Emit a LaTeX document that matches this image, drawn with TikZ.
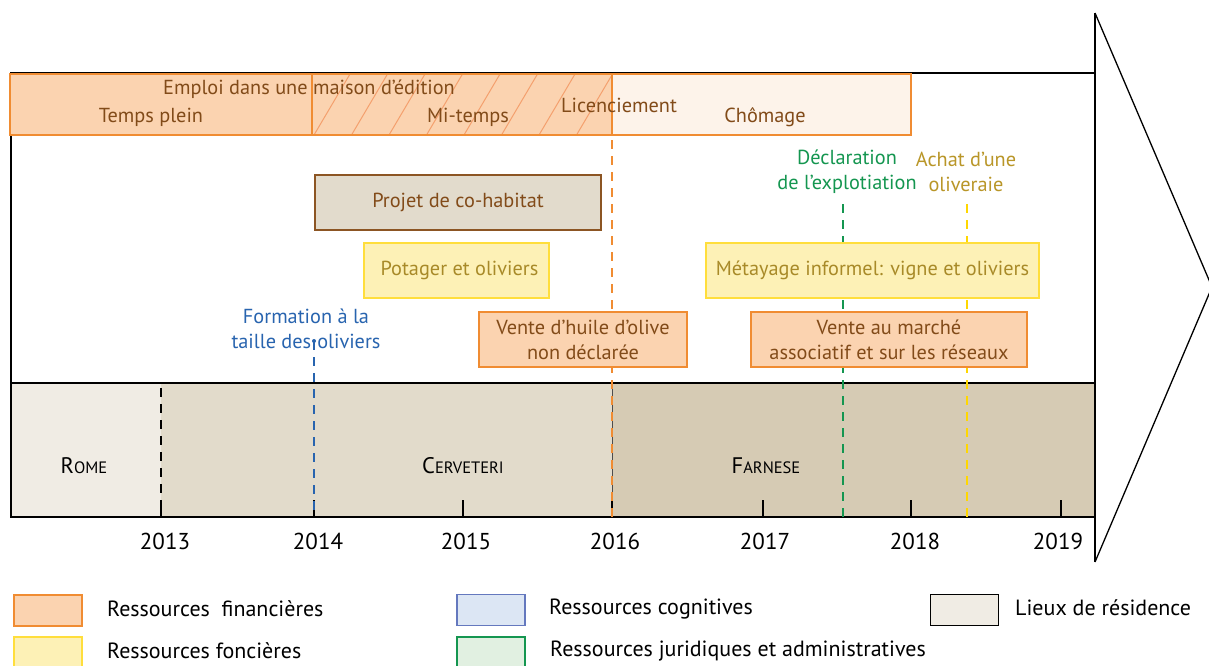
\documentclass[tikz,border=0pt]{standalone}
\usepackage{fontspec}
\setmainfont{PT Sans}
\definecolor{peach}{RGB}{251,211,176}
\definecolor{orng}{RGB}{240,140,50}
\definecolor{hatchc}{RGB}{244,160,110}
\definecolor{chom}{RGB}{253,243,234}
\definecolor{brn}{RGB}{130,75,25}
\definecolor{brnb}{RGB}{140,85,35}
\definecolor{cohab}{RGB}{226,219,204}
\definecolor{yfill}{RGB}{253,241,182}
\definecolor{ybord}{RGB}{255,222,60}
\definecolor{olive}{RGB}{168,138,40}
\definecolor{gold}{RGB}{185,150,40}
\definecolor{ydash}{RGB}{255,215,0}
\definecolor{blu}{RGB}{40,100,175}
\definecolor{grn}{RGB}{20,150,80}
\definecolor{romec}{RGB}{240,236,228}
\definecolor{cervc}{RGB}{226,219,203}
\definecolor{farnc}{RGB}{214,203,180}
\definecolor{lblue}{RGB}{220,230,244}
\definecolor{lblueb}{RGB}{100,120,190}
\definecolor{lgreen}{RGB}{225,240,225}
\begin{document}
\begin{tikzpicture}[x=1pt,y=-1pt,
  txt/.style={inner sep=0pt, font=\fontsize{20.3}{25}\selectfont, align=center},
  sbox/.style={draw, inner sep=0pt, font=\fontsize{20.3}{25}\selectfont, align=center},
  fin/.style={sbox, fill=peach, draw=orng, line width=1.3pt},
  fon/.style={sbox, fill=yfill, draw=ybord, line width=1.3pt, text=olive},
  legbox/.style={draw, inner sep=0pt, minimum width=68pt, minimum height=31pt},
  legtxt/.style={inner sep=0pt, anchor=west, font=\fontsize{22}{24}\selectfont},
  vdash/.style={dashed, dash pattern=on 9pt off 7pt, line width=1.3pt},
  tick/.style={line width=1.3pt},
  place/.style={inner sep=0pt, font=\fontsize{22.5}{24}\selectfont}
]
\useasboundingbox (0,0) rectangle (1209,665);
\fill[white] (0,0) rectangle (1209,665);

% residence band
\fill[romec] (11,383) rectangle (161,517);
\fill[cervc] (161,383) rectangle (612,517);
\fill[farnc] (612,383) rectangle (1095,517);
\draw[line width=0.8pt, black!70] (612,383) -- (612,517);

% frame
\draw[line width=1.6pt] (11,73) rectangle (1095,517);
\draw[line width=2.2pt] (11,383) -- (1095,383);
\draw[line width=2.2pt] (11,517) -- (1095,517);

% year coordinates
\foreach \y/\x/\dx in {2013/161/4,2014/314/4,2015/463/3,2016/612/3,2017/763/2,2018/911/4,2019/1061/-3}{
  \coordinate (b\y) at (\x,517);
  \coordinate (t\y) at (\x,500);
  \draw[tick] (b\y) -- (t\y);
  \node[inner sep=0pt, font=\fontsize{23}{24}\selectfont] (y\y) at (\x+\dx,541) {\y};
}

% places
\node[place] (rome) at (84,466) {R{\fontsize{16.5}{18}\selectfont OME}};
\node[place] (cerv) at (463,466) {C{\fontsize{16.5}{18}\selectfont ERVETERI}};
\node[place] (farn) at (766,466) {F{\fontsize{16.5}{18}\selectfont ARNESE}};

% dashed lines
\coordinate (d13) at (161,388);
\draw[vdash, black] (d13) -- (t2013);
\coordinate (blueTop) at (314,341);
\fill[blu] (blueTop) circle (2pt);
\draw[vdash, blu] (blueTop) -- (b2014);
\coordinate (orTop) at (612,140);
\draw[vdash, orng] (orTop) -- (b2016);
\coordinate (grTop) at (843,204);
\coordinate (grBot) at (843,517);
\draw[vdash, grn] (grTop) -- (grBot);
\coordinate (yeTop) at (967,204);
\coordinate (yeBot) at (967,517);
\draw[vdash, ydash] (yeTop) -- (yeBot);

% boxes
\node[sbox, fill=cohab, draw=brnb, line width=1.8pt, text=brn, minimum width=286pt, minimum height=55pt] (cohabit) at (458,202.5) {Projet de co-habitat};
\node[fon, minimum width=185pt, minimum height=55pt] (potager) at (456.5,270.5) {\hspace{6pt}Potager et oliviers};
\node[fin, text=brn, minimum width=208pt, minimum height=55pt] (huile) at (583,339.5) {Vente d’huile d’olive\\non déclarée};
\node[fon, minimum width=333pt, minimum height=55pt] (metay) at (872.5,270.5) {Métayage informel: vigne et oliviers};
\node[fin, text=brn, minimum width=276pt, minimum height=55pt] (marche) at (889,339.5) {Vente au marché\\associatif et sur les réseaux};

% top employment bar
\node[fin, minimum width=302pt, minimum height=61pt] (plein) at (161,104.5) {};
\node[fin, minimum width=300pt, minimum height=61pt] (mitemps) at (462,104.5) {};
\begin{scope}
  \clip (312,74) rectangle (612,135);
  \foreach \i in {0,...,8}{
    \draw[hatchc, line width=1pt] (314+37.5*\i,135) -- (350+37.5*\i,74);
  }
\end{scope}
\draw[orng, line width=1.3pt] (312,74) rectangle (612,135);
\node[sbox, fill=chom, draw=orng, line width=1.3pt, minimum width=299pt, minimum height=61pt] (chomage) at (761.5,104.5) {};

\node[txt, text=brn] (emploi) at (309,89) {Emploi dans une maison d’édition};
\node[txt, text=brn] (tplein) at (151,117) {Temps plein};
\node[txt, text=brn] (mit) at (468,117) {Mi-temps};
\node[txt, text=brn] (licen) at (619,105) {Licenciement};
\node[txt, text=brn] (chomt) at (765,117) {Chômage};

% labels
\node[txt, text=blu] (form) at (306,328.5) {Formation à la\\taille des\hspace{6pt}oliviers};
\node[txt, text=grn] (decl) at (847,171.5) {Déclaration\\de l’explotiation};
\node[txt, text=gold] (achat) at (966,171.5) {Achat d’une\\oliveraie};

% arrow
\coordinate (trTop) at (1095,13);
\coordinate (trApex) at (1212,287);
\coordinate (trBot) at (1095,562);
\draw[line width=1.3pt, line join=miter] (trTop) -- (trApex) -- (trBot);
\draw[line width=1.6pt] (trTop) -- (trBot);

% legend
\node[legbox, fill=peach, draw=orng, line width=1.3pt] (lfin) at (48,610.5) {};
\node[legtxt] (lfint) at (107,609) {Ressources\ \ financières};
\node[legbox, fill=yfill, draw=ybord, line width=1.3pt] (lfon) at (48,652.5) {};
\node[legtxt] (lfont) at (107,651) {Ressources foncières};
\node[legbox, fill=lblue, draw=lblueb, line width=1.3pt] (lcog) at (491,610) {};
\node[legtxt] (lcogt) at (549,609) {Ressources cognitives};
\node[legbox, fill=lgreen, draw=grn, line width=1.3pt] (ljur) at (491,652.5) {};
\node[legtxt] (ljurt) at (550,651) {Ressources juridiques et administratives};
\node[legbox, fill=romec, draw=black, line width=1.8pt] (lres) at (964.5,610) {};
\node[legtxt] (lrest) at (1015,608) {Lieux de résidence};
\end{tikzpicture}
\end{document}
